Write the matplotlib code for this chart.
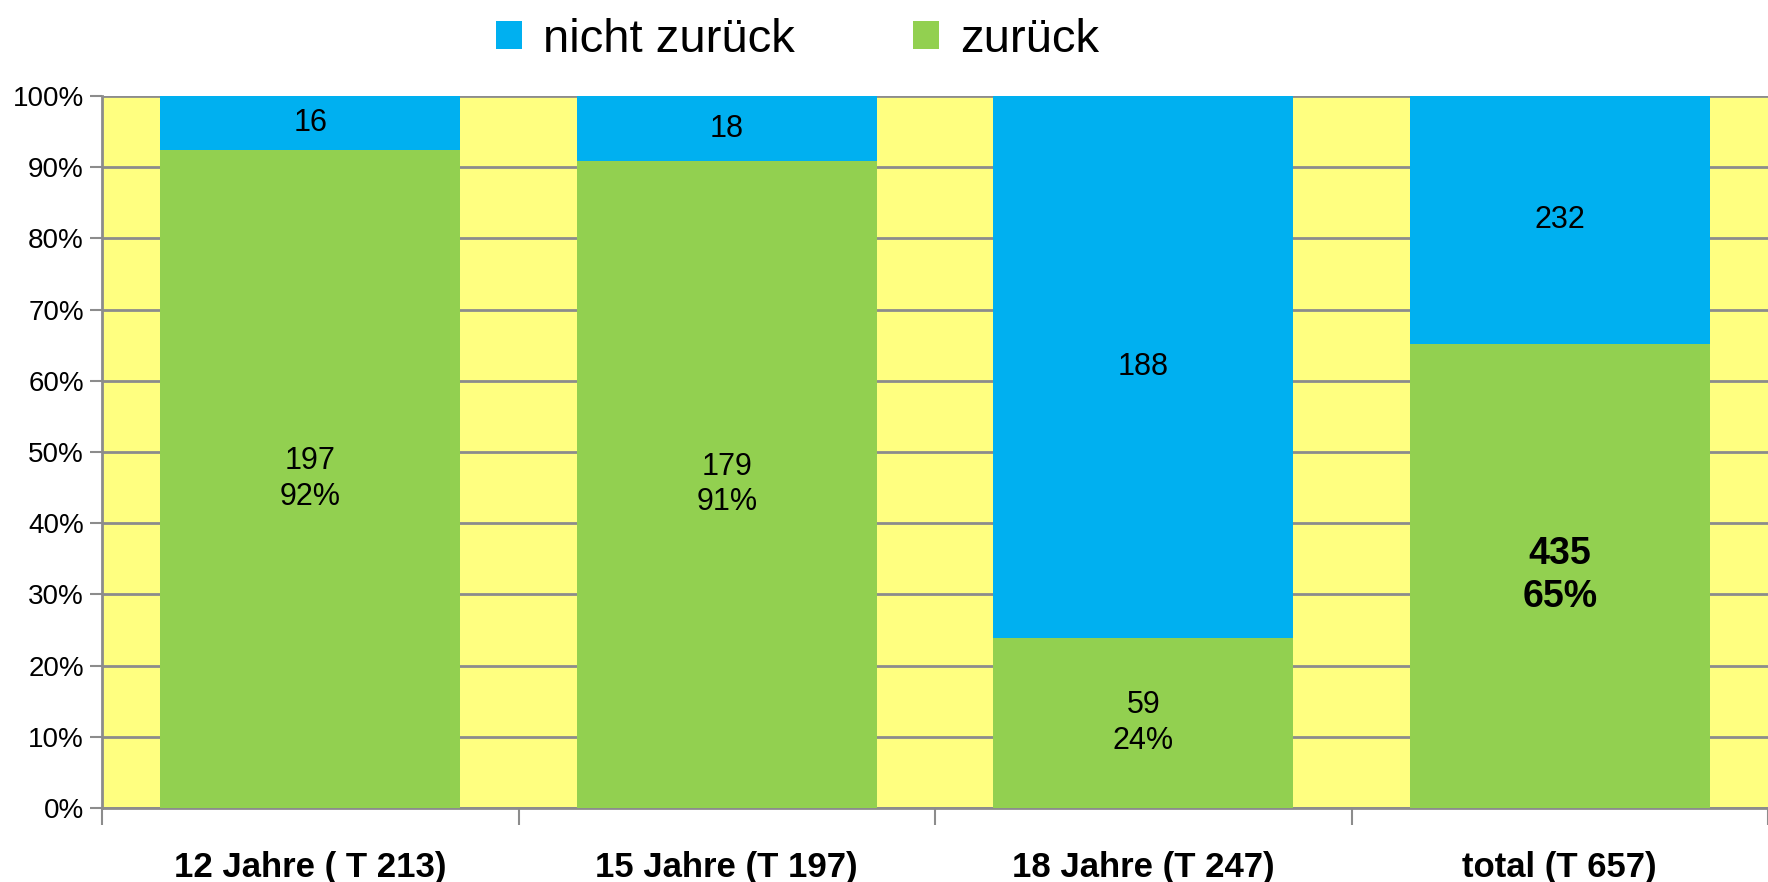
import numpy as np
import matplotlib
matplotlib.use("Agg")
import matplotlib.pyplot as plt
from matplotlib.ticker import PercentFormatter

plt.rcParams['font.family'] = ['Liberation Sans', 'DejaVu Sans']

# ---- data ----
categories = ['12 Jahre ( T 213)', '15 Jahre (T 197)', '18 Jahre (T 247)', 'total (T 657)']
zurueck = [197, 179, 59, 435]
nicht_zurueck = [16, 18, 188, 232]

# ---- colours ----
c_blue = '#00B0F0'
c_green = '#92D050'
c_bg = '#FFFF80'
c_grid = '#8C8C8C'

zurueck = np.array(zurueck, dtype=float)
nicht_zurueck = np.array(nicht_zurueck, dtype=float)
totals = zurueck + nicht_zurueck
p_green = zurueck / totals * 100
p_blue = nicht_zurueck / totals * 100

fig = plt.figure(figsize=(17.68, 8.82), dpi=100)
ax = fig.add_axes([0.0577, 0.084, 0.9423, 0.807])
ax.set_facecolor(c_bg)

x = np.arange(len(categories))
w = 0.72
ax.bar(x, p_blue, w, bottom=p_green, color=c_blue, label='nicht zurück', zorder=3)
ax.bar(x, p_green, w, color=c_green, label='zurück', zorder=3)

# data labels
for i in range(len(categories)):
    last = i == len(categories) - 1
    ax.text(x[i], p_green[i] / 2, '%d\n%d%%' % (zurueck[i], round(p_green[i])),
            ha='center', va='center', fontsize=27 if last else 22,
            fontweight='bold' if last else 'normal',
            linespacing=1.25, zorder=4)
    ax.text(x[i], p_green[i] + p_blue[i] / 2, '%d' % nicht_zurueck[i],
            ha='center', va='center', fontsize=22, zorder=4)

ax.set_xlim(-0.5, len(categories) - 0.5)
ax.set_ylim(0, 100)
ax.set_yticks(np.arange(0, 101, 10))
ax.yaxis.set_major_formatter(PercentFormatter(decimals=0))
ax.yaxis.grid(True, color=c_grid, linewidth=2, zorder=1)
ax.set_axisbelow(True)

# category boundary ticks on x axis, labels centred under bars
ax.set_xticks(np.arange(-0.5, len(categories), 1.0))
ax.set_xticklabels([])
ax.set_xticks(x, minor=True)
ax.set_xticklabels(categories, minor=True, fontsize=25, fontweight='bold')
ax.tick_params(axis='x', which='minor', length=0, pad=31)
ax.tick_params(axis='x', which='major', length=12, width=1.5, color=c_grid)
ax.tick_params(axis='y', length=9, width=1.5, color=c_grid, labelsize=20, pad=4)

for side in ['top', 'right']:
    ax.spines[side].set_visible(False)
for side in ['left', 'bottom']:
    ax.spines[side].set_color(c_grid)
    ax.spines[side].set_linewidth(2)

fig.legend(loc='upper center', bbox_to_anchor=(0.451, 1.012), ncol=2, frameon=False,
           fontsize=34, handlelength=0.55, handleheight=0.55, handletextpad=0.45,
           columnspacing=2.5, borderaxespad=0.2)

fig.savefig('out.png', dpi=100)
